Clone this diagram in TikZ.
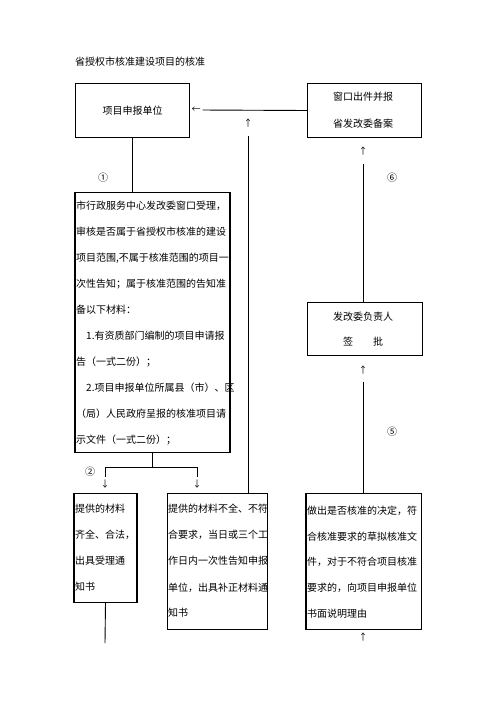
\documentclass[tikz,border=0pt]{standalone}
\usepackage{fontspec}
\newfontfamily\cjk{Noto Sans CJK SC}
\begin{document}
\begin{tikzpicture}[x=1pt,y=-1pt,
  box/.style={draw, line width=1pt, inner sep=0pt, anchor=north west, font=\cjk\fontsize{10}{12}\selectfont},
  ln/.style={anchor=base west, inner sep=0pt, font=\cjk\fontsize{10}{12}\selectfont},
  lc/.style={anchor=base, inner sep=0pt, font=\cjk\fontsize{10}{12}\selectfont},
  arr/.style={inner sep=0pt, font=\cjk\fontsize{9}{10}\selectfont},
  num/.style={inner sep=0pt, font=\cjk\fontsize{10}{12}\selectfont},
  conn/.style={line width=0.9pt},
  thickside/.style={line width=1.8pt}]
\useasboundingbox (0,0) rectangle (496,702);

% title
\node[ln] (title) at (75,65.8) {省授权市核准建设项目的核准};

% boxes
\node[box, minimum width=114pt, minimum height=54pt] (b1) at (75,83) {项目申报单位};
\node[box, minimum width=114pt, minimum height=54pt] (b2) at (307,83) {};
\node[box, minimum width=154pt, minimum height=260pt] (b3) at (75,192) {};
\node[box, minimum width=62pt, minimum height=109pt] (b4) at (74,493) {};
\node[box, minimum width=100pt, minimum height=136pt] (b5) at (167,493) {};
\node[box, minimum width=115pt, minimum height=53pt] (b6) at (307,302) {};
\node[box, minimum width=115pt, minimum height=136pt] (b7) at (306,493) {};

\draw[thickside] (b3.north west) -- (b3.south west);
\draw[thickside] (b3.north east) -- (b3.south east);
\draw[thickside] (b4.north west) -- (b4.south west);
\draw[thickside] (b4.north east) -- (b4.south east);
\draw[thickside] (b7.north west) -- (b7.south west);

% box 2 text
\node[lc] (b2a) at (363,100.8) {窗口出件并报};
\node[lc] (b2b) at (363,127.8) {省发改委备案};

% box 3 text
\node[ln] (b3a) at (76,209.8) {市行政服务中心发改委窗口受理，};
\node[ln] (b3b) at (76,235.8) {审核是否属于省授权市核准的建设};
\node[ln] (b3c) at (76,261.8) {项目范围,不属于核准范围的项目一};
\node[ln] (b3d) at (76,287.8) {次性告知；属于核准范围的告知准};
\node[ln] (b3e) at (76,313.8) {备以下材料：};
\node[ln] (b3f) at (86,339.8) {1.有资质部门编制的项目申请报};
\node[ln] (b3g) at (76,365.8) {告（一式二份）；};
\node[ln] (b3h) at (86,391.8) {2.项目申报单位所属县（市）、区};
\node[ln] (b3i) at (76,417.8) {（局）人民政府呈报的核准项目请};
\node[ln] (b3j) at (76,443.8) {示文件（一式二份）；};

% box 4 text
\node[ln] (b4a) at (75,512.8) {提供的材料};
\node[ln] (b4b) at (75,538.8) {齐全、合法，};
\node[ln] (b4c) at (75,564.8) {出具受理通};
\node[ln] (b4d) at (75,590.8) {知书};

% box 5 text
\node[ln] (b5a) at (168,512.8) {提供的材料不全、不符};
\node[ln] (b5b) at (168,538.8) {合要求，当日或三个工};
\node[ln] (b5c) at (168,564.8) {作日内一次性告知申报};
\node[ln] (b5d) at (168,591.8) {单位，出具补正材料通};
\node[ln] (b5e) at (168,616.8) {知书};

% box 6 text
\node[lc] (b6a) at (363,320.8) {发改委负责人};
\node[lc] (b6b) at (363,345.8) {签　　批};

% box 7 text
\node[ln] (b7a) at (307,514.8) {做出是否核准的决定，符};
\node[ln] (b7b) at (307,540.8) {合核准要求的草拟核准文};
\node[ln] (b7c) at (307,565.8) {件，对于不符合项目核准};
\node[ln] (b7d) at (307,591.8) {要求的，向项目申报单位};
\node[ln] (b7e) at (307,617.8) {书面说明理由};

% arrow glyphs
\node[arr] (aL) at (196,110) {←};
\node[arr] (aU1) at (248,123) {↑};
\node[arr] (aU2) at (363,151) {↑};
\node[arr] (aU3) at (363,370) {↑};
\node[arr] (aU4) at (363,637) {↑};
\node[arr] (aD1) at (105,484) {↓};
\node[arr] (aD2) at (197,484) {↓};

% numbers
\node[num] (n1) at (103,178) {①};
\node[num] (n2) at (90,472) {②};
\node[num] (n5) at (392,432) {⑤};
\node[num] (n6) at (392,178) {⑥};

% connectors
\draw[conn] (b1.south) -- (b1.south |- b3.north);
\draw[conn, shorten >=2pt] (b2.west) -- (aL.east);
\draw[conn, shorten >=9pt] (aU1 |- b5.north) -- (aU1.south);
\draw[conn, shorten >=9pt] (aU2 |- b6.north) -- (aU2.south);
\draw[conn, shorten >=8pt] (aU3 |- b7.north) -- (aU3.south);
\coordinate (e4) at (105,643);
\draw[conn] (b4.south) -- (e4);
\draw[conn, shorten >=3pt] (b3.south) -- ++(0,14) -| (aD1.north);
\draw[conn, shorten >=3pt] (b3.south) -- ++(0,14) -| (aD2.north);
\end{tikzpicture}
\end{document}
